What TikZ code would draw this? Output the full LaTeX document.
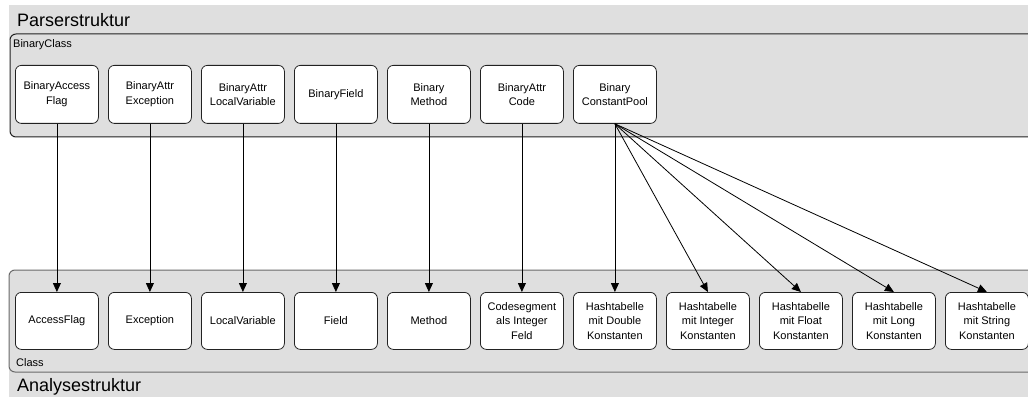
\documentclass[tikz,border=0pt]{standalone}
\usepackage{fontspec}
\setmainfont{Liberation Sans}
\usetikzlibrary{arrows.meta}
\definecolor{panel}{HTML}{DFDFDF}
\definecolor{frame}{HTML}{222222}
\definecolor{frameb}{HTML}{6A6A6A}
\begin{document}
\begin{tikzpicture}[x=1pt,y=-1pt,
  box/.style={draw=frame, fill=white, rounded corners=6pt, minimum width=83pt,
    minimum height=58pt, inner sep=1pt, align=center, anchor=north west,
    font=\fontsize{11}{14.5}\selectfont, line width=0.8pt},
  lowbox/.style={box, minimum height=57pt},
  link/.style={draw=black, line width=0.8pt, -{Triangle[length=9pt,width=8pt]}},
  title/.style={anchor=base west, inner sep=0pt, font=\fontsize{18}{20}\selectfont},
  caption/.style={anchor=base west, inner sep=0pt, font=\fontsize{11}{12}\selectfont},
  ]
\useasboundingbox (0,0) rectangle (1028,398);

% upper panel: parser structure
\fill[panel] (9,5) rectangle (1028,40);
\draw[fill=panel, rounded corners=6pt, draw=frame, line width=1pt]
  (1040,34) -- (10,34) -- (10,137) -- (1040,137);

% lower panel: analysis structure
\fill[panel] (9,365) rectangle (1028,397);
\draw[fill=panel, rounded corners=6pt, draw=frameb, line width=1pt]
  (1040,270) -- (9,270) -- (9,372) -- (1040,372);

\node[title] (ptitle) at (17,27) {Parserstruktur};
\node[caption] (pclass) at (13,48) {BinaryClass};
\node[caption] (aclass) at (16,366) {Class};
\node[title] (atitle) at (17,391) {Analysestruktur};

% parser classes
\node[box] (tAF) at (15,65)  {BinaryAccess\\Flag};
\node[box] (tEx) at (108,65) {BinaryAttr\\Exception};
\node[box] (tLV) at (201,65) {BinaryAttr\\LocalVariable};
\node[box] (tFi) at (294,65) {BinaryField};
\node[box] (tMe) at (387,65) {Binary\\Method};
\node[box] (tCo) at (480,65) {BinaryAttr\\Code};
\node[box] (tCP) at (573,65) {Binary\\ConstantPool};

% analysis classes
\node[lowbox] (bAF) at (15,292)  {AccessFlag};
\node[lowbox] (bEx) at (108,292) {Exception};
\node[lowbox] (bLV) at (201,292) {LocalVariable};
\node[lowbox] (bFi) at (294,292) {Field};
\node[lowbox] (bMe) at (387,292) {Method};
\node[lowbox] (bCo) at (480,292) {Codesegment\\als Integer\\Feld};
\node[lowbox] (bHD) at (573,292) {Hashtabelle\\mit Double\\Konstanten};
\node[lowbox] (bHI) at (666,292) {Hashtabelle\\mit Integer\\Konstanten};
\node[lowbox] (bHF) at (759,292) {Hashtabelle\\mit Float\\Konstanten};
\node[lowbox] (bHL) at (852,292) {Hashtabelle\\mit Long\\Konstanten};
\node[lowbox] (bHS) at (945,292) {Hashtabelle\\mit String\\Konstanten};

% mappings
\draw[link] (tAF.south) -- (bAF.north);
\draw[link] (tEx.south) -- (bEx.north);
\draw[link] (tLV.south) -- (bLV.north);
\draw[link] (tFi.south) -- (bFi.north);
\draw[link] (tMe.south) -- (bMe.north);
\draw[link] (tCo.south) -- (bCo.north);
\draw[link] (tCP.south) -- (bHD.north);
\draw[link] (tCP.south) -- (bHI.north);
\draw[link] (tCP.south) -- (bHF.north);
\draw[link] (tCP.south) -- (bHL.north);
\draw[link] (tCP.south) -- (bHS.north);
\end{tikzpicture}
\end{document}
